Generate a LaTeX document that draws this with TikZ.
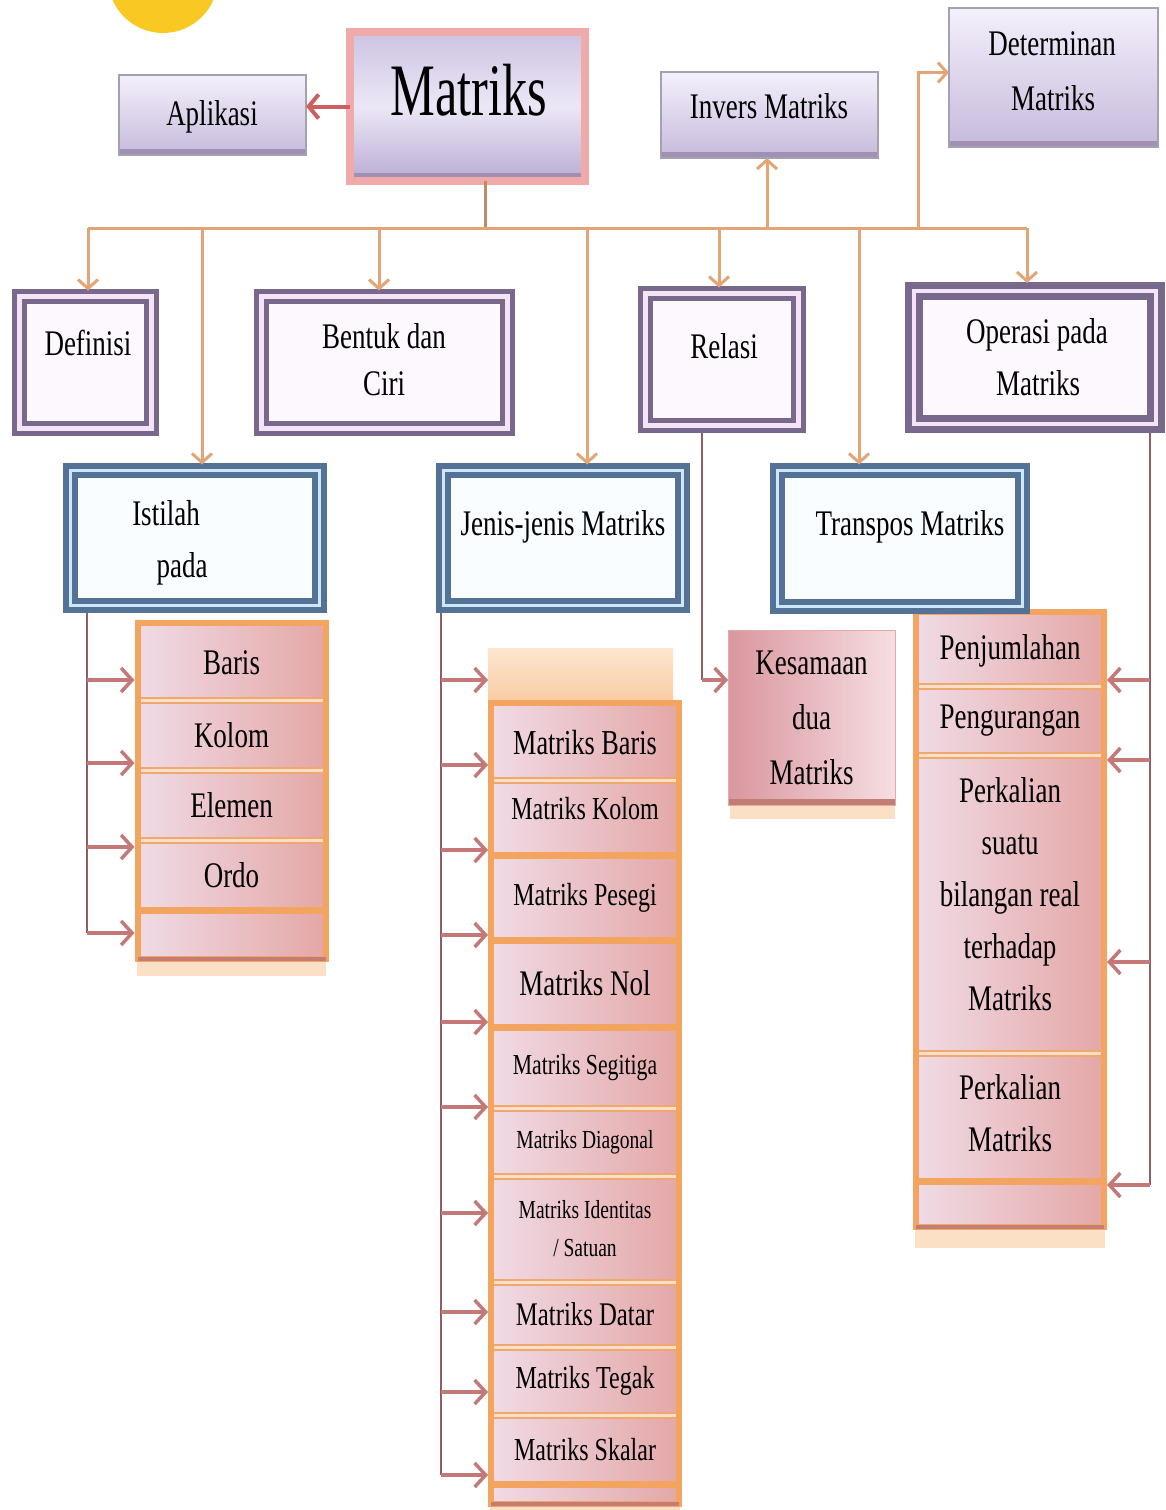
\documentclass[tikz,border=0pt]{standalone}
\usepackage{fontspec}
\setmainfont{Liberation Serif}[FakeStretch=0.75]
\newfontfamily\narrowf{Liberation Serif}[FakeStretch=0.68]
\usetikzlibrary{arrows.meta}
\newcommand\myfs[2]{\fontsize{#1}{#2}\selectfont}
\definecolor{gold}{RGB}{250,200,35}
\definecolor{lavT}{RGB}{244,240,251}
\definecolor{lavB}{RGB}{198,186,220}
\definecolor{lavD}{RGB}{160,145,178}
\definecolor{lavE}{RGB}{165,160,178}
\definecolor{matB}{RGB}{240,170,170}
\definecolor{matT}{RGB}{205,195,226}
\definecolor{matM}{RGB}{236,231,246}
\definecolor{matL}{RGB}{186,172,212}
\definecolor{purp}{RGB}{120,104,140}
\definecolor{purpgap}{RGB}{244,228,246}
\definecolor{purpfill}{RGB}{253,248,253}
\definecolor{bluef}{RGB}{84,114,150}
\definecolor{bluegap}{RGB}{205,230,250}
\definecolor{bluefill}{RGB}{250,253,255}
\definecolor{orb}{RGB}{243,165,95}
\definecolor{pinkL}{RGB}{240,218,228}
\definecolor{pinkR}{RGB}{228,168,168}
\definecolor{sepc}{RGB}{238,170,110}
\definecolor{sepgap}{RGB}{250,222,202}
\definecolor{shadowc}{RGB}{252,224,198}
\definecolor{darkb}{RGB}{195,125,118}
\definecolor{paleT}{RGB}{252,230,208}
\definecolor{paleB}{RGB}{249,205,165}
\definecolor{kesL}{RGB}{218,150,158}
\definecolor{kesR}{RGB}{245,222,226}
\definecolor{kesE}{RGB}{230,170,170}
\definecolor{busc}{RGB}{228,165,118}
\definecolor{busd}{RGB}{190,140,100}
\definecolor{trunkc}{RGB}{140,95,100}
\definecolor{arrc}{RGB}{196,120,120}
\definecolor{redc}{RGB}{205,95,95}
\begin{document}
\begin{tikzpicture}[x=1pt,y=-1pt,
  every node/.style={inner sep=0pt, outer sep=0pt},
  txt/.style={anchor=base, font=\myfs{36}{40}},
  topbox/.style={draw=lavE, line width=1.5pt, top color=lavT, bottom color=lavB,
    path picture={\fill[lavD] ([yshift=6pt]path picture bounding box.south west) rectangle (path picture bounding box.south east);}},
  matbox/.style={draw=matB, line width=8pt, top color=matT, bottom color=matL, middle color=matM,
    path picture={\fill[lavD] ([yshift=8pt]path picture bounding box.south west) rectangle (path picture bounding box.south east);}},
  purbox/.style={draw=purp, line width=5pt, double=purpgap, double distance=5pt, fill=purpfill},
  blubox/.style={draw=bluef, line width=6pt, double=bluegap, double distance=3pt, fill=bluefill},
  frame/.style={draw=orb, line width=6pt, minimum width=188},
  band/.style={left color=pinkL, right color=pinkR, minimum width=182, align=center, font=\myfs{36}{40}},
  sepd/.style={draw=sepc, line width=2pt, double=sepgap, double distance=3pt},
  sept/.style={draw=orb, line width=7pt},
  kesbox/.style={draw=kesE, line width=1pt, left color=kesL, right color=kesR, align=center, font=\myfs{36}{55},
    path picture={\fill[darkb] ([yshift=6pt]path picture bounding box.south west) rectangle (path picture bounding box.south east);}},
  busl/.style={draw=busc, line width=3pt},
  busarr/.style={draw=busc, line width=3pt, -{Straight Barb[length=9pt,width=20pt]}},
  trunk/.style={draw=trunkc, line width=2.5pt},
  larr/.style={draw=arrc, line width=3.5pt, -{Straight Barb[length=11pt,width=24pt]}},
  redarr/.style={draw=redc, line width=4pt, -{Straight Barb[length=10pt,width=24pt]}}
]
\useasboundingbox (0,0) rectangle (1166,1510);
\fill[white] (0,0) rectangle (1166,1510);
\fill[gold] (163,-22) circle[radius=55pt];

% ---------- top row ----------
\node[topbox, minimum width=187, minimum height=80] (apl) at (212.5,115) {};
\node[txt] (aplt) at (212,125) {Aplikasi};
\node[matbox, minimum width=235, minimum height=149] (mat) at (467.5,106.5) {};
\node[anchor=base, font=\narrowf\myfs{74}{80}] (matt) at (469,115) {Matriks};
\node[topbox, minimum width=217, minimum height=86] (inv) at (769.5,115) {};
\node[txt] (invt) at (769,118) {Invers Matriks};
\node[topbox, minimum width=209, minimum height=139] (det) at (1053.5,77.5) {};
\node[txt] (dett1) at (1052,55) {Determinan};
\node[txt] (dett2) at (1053,110) {Matriks};

% ---------- second row ----------
\node[purbox, minimum width=132, minimum height=132] (def) at (85.5,362.5) {};
\node[txt] (deft) at (88,355) {Definisi};
\node[purbox, minimum width=246, minimum height=132] (ben) at (384.5,362.5) {};
\node[txt] (bent1) at (384,348) {Bentuk dan};
\node[txt] (bent2) at (384,395) {Ciri};
\node[purbox, minimum width=153, minimum height=132] (rel) at (722,359.5) {};
\node[txt] (relt) at (724,358) {Relasi};
\node[purbox, line width=7pt, double distance=4pt, minimum width=242, minimum height=133] (ope) at (1035,357.5) {};
\node[txt] (opet1) at (1037,343) {Operasi pada};
\node[txt] (opet2) at (1038,395) {Matriks};

% ---------- lists (behind third row) ----------
% Istilah list
\fill[shadowc] (137,958) rectangle (326,976);
\node[band, minimum height=74] (ib1) at (231.5,663) {Baris};
\node[band, minimum height=70] (ib2) at (231.5,735) {Kolom};
\node[band, minimum height=70] (ib3) at (231.5,805) {Elemen};
\node[band, minimum height=70] (ib4) at (231.5,875) {Ordo};
\node[band, minimum height=46] (ib5) at (231.5,933) {};
\draw[sepd] (ib1.south west) -- (ib1.south east);
\draw[sepd] (ib2.south west) -- (ib2.south east);
\draw[sepd] (ib3.south west) -- (ib3.south east);
\draw[sept] (ib4.south west) -- (ib4.south east);
\node[frame, minimum height=336] (ifr) at (231.5,791) {};
\draw[darkb, line width=4pt] (ifr.south west) -- (ifr.south east);

% Jenis list
\fill[shadowc] (490,1500) rectangle (680,1510);
\node[top color=paleT, bottom color=paleB, minimum width=185, minimum height=52] (jpale) at (580.5,674) {};
\node[band, minimum height=74, font=\myfs{35}{40}] (jb1) at (585,743) {Matriks Baris};
\node[band, minimum height=75, font=\myfs{32}{40}, text depth=18pt] (jb2) at (585,817.5) {Matriks Kolom};
\node[band, minimum height=85, font=\myfs{32}{40}] (jb3) at (585,897.5) {Matriks Pesegi};
\node[band, minimum height=87, font=\myfs{36}{40}] (jb4) at (585,983.5) {Matriks Nol};
\node[band, minimum height=81, font=\myfs{29}{40}] (jb5) at (585,1067.5) {Matriks Segitiga};
\node[band, minimum height=68, font=\myfs{26}{40}] (jb6) at (585,1142) {Matriks Diagonal};
\node[band, minimum height=106, font=\myfs{26}{38}] (jb7) at (585,1229) {Matriks Identitas\\/ Satuan};
\node[band, minimum height=65, font=\myfs{33}{40}] (jb8) at (585,1314.5) {Matriks Datar};
\node[band, minimum height=68, font=\myfs{32}{40}] (jb9) at (585,1381) {Matriks Tegak};
\node[band, minimum height=69, font=\myfs{32}{40}] (jb10) at (585,1449.5) {Matriks Skalar};
\node[band, minimum height=17] (jb11) at (585,1492.5) {};
\draw[sepd] (jb1.south west) -- (jb1.south east);
\draw[sept] (jb2.south west) -- (jb2.south east);
\draw[sept] (jb3.south west) -- (jb3.south east);
\draw[sept] (jb4.south west) -- (jb4.south east);
\draw[sepd] (jb5.south west) -- (jb5.south east);
\draw[sepd] (jb6.south west) -- (jb6.south east);
\draw[sepd] (jb7.south west) -- (jb7.south east);
\draw[sepd] (jb8.south west) -- (jb8.south east);
\draw[sepd] (jb9.south west) -- (jb9.south east);
\draw[sept] (jb10.south west) -- (jb10.south east);
\node[frame, minimum height=801] (jfr) at (585,1103.5) {};
\draw[darkb, line width=4pt] (jfr.south west) -- (jfr.south east);

% Operasi list
\fill[shadowc] (915,1226) rectangle (1105,1248);
\node[band] (ob1) [minimum height=71] at (1010,650.5) {Penjumlahan};
\node[band] (ob2) [minimum height=69] at (1010,720.5) {Pengurangan};
\node[band, font=\myfs{36}{52}, text depth=20pt] (ob3) [minimum height=298] at (1010,904) {Perkalian\\suatu\\bilangan real\\terhadap\\Matriks};
\node[band, font=\myfs{36}{52}, text depth=8pt] (ob4) [minimum height=128] at (1010,1117) {Perkalian\\Matriks};
\node[band] (ob5) [minimum height=43] at (1010,1202.5) {};
\draw[sepd] (ob1.south west) -- (ob1.south east);
\draw[sepd] (ob2.south west) -- (ob2.south east);
\draw[sepd] (ob3.south west) -- (ob3.south east);
\draw[sept] (ob4.south west) -- (ob4.south east);
\node[frame, minimum height=615] (ofr) at (1010,919.5) {};
\draw[darkb, line width=4pt] (ofr.south west) -- (ofr.south east);

% Kesamaan
\fill[shadowc] (730,803) rectangle (895,819);
\node[kesbox, minimum width=167, minimum height=175] (kes) at (811.5,717.5) {Kesamaan\\dua\\Matriks};

% ---------- third row ----------
\node[blubox, minimum width=249, minimum height=135] (ist) at (195,538) {};
\node[txt] (istt1) at (166,525) {Istilah};
\node[txt] (istt2) at (182,577) {pada};
\node[blubox, minimum width=239, minimum height=135] (jen) at (563,538) {};
\node[txt] (jent) at (563,535) {Jenis-jenis Matriks};
\node[blubox, minimum width=245, minimum height=136] (tra) at (900,538.5) {};
\node[txt] (trat) at (910,535) {Transpos Matriks};

% ---------- bus connectors ----------
\coordinate (bj) at (485,228);
\coordinate (bL) at (88,228);
\coordinate (bR) at (1027,228);
\coordinate (b2) at (202,228);
\coordinate (b3) at (379,228);
\coordinate (b4) at (587,228);
\coordinate (b5) at (719,228);
\coordinate (b6) at (767,228);
\coordinate (b7) at (859,228);
\coordinate (b8) at (918,228);
\draw[draw=busd, line width=3pt] ([xshift=17.5pt]mat.south) -- (bj);
\draw[busl] (bL) -- (bR);
\draw[busarr, shorten >=6pt] (bL) -- (def.north -| bL);
\draw[busarr, shorten >=6pt] (b2) -- (ist.north -| b2);
\draw[busarr, shorten >=6pt] (b3) -- (ben.north -| b3);
\draw[busarr, shorten >=6pt] (b4) -- (jen.north -| b4);
\draw[busarr, shorten >=6pt] (b5) -- (rel.north -| b5);
\draw[busarr] (b6) -- (inv.south -| b6);
\draw[busarr, shorten >=6pt] (b7) -- (tra.north -| b7);
\draw[busarr] (b8) |- ([yshift=5pt]det.west);
\draw[busarr, shorten >=8pt] (bR) -- (ope.north -| bR);
\draw[redarr] (mat.west) -- (apl.east |- mat.west);

% ---------- Istilah trunk ----------
\path ([xshift=16.5pt]ist.south west) coordinate (it);
\path ([yshift=-17pt]ib1.west) coordinate (ia1);
\path ([yshift=-28pt]ib2.west) coordinate (ia2);
\path ([yshift=28pt]ib4.west) coordinate (ia3);
\path (ib5.west) coordinate (ia4);
\draw[trunk, shorten <=7pt] (it) -- (it |- ia4);
\foreach \a in {ia1,ia2,ia3,ia4}{\draw[larr, shorten >=6pt] (it |- \a) -- (\a);}

% ---------- Jenis trunk ----------
\path ([xshift=-2.5pt]jen.south west) coordinate (jt);
\path ([yshift=-6pt]jpale.west) coordinate (ja0);
\path ([yshift=-22pt]jb1.west) coordinate (ja1);
\path ([yshift=-32.5pt]jb2.west) coordinate (ja2);
\path ([yshift=-37.5pt]jb3.west) coordinate (ja3);
\path ([yshift=-38.5pt]jb4.west) coordinate (ja4);
\path ([yshift=-39.5pt]jb5.west) coordinate (ja5);
\path ([yshift=16pt]jb7.west) coordinate (ja6);
\path ([yshift=2.5pt]jb8.west) coordinate (ja7);
\path ([yshift=-11pt]jb9.west) coordinate (ja8);
\path ([yshift=-25.5pt]jb10.west) coordinate (ja9);
\draw[trunk, shorten <=7pt] (jt) -- (jt |- ja9);
\draw[larr] (jt |- ja0) -- (ja0);
\foreach \a in {ja1,ja2,ja3,ja4,ja5,ja6,ja7,ja8,ja9}{\draw[larr, shorten >=6pt] (jt |- \a) -- (\a);}

% ---------- Operasi trunk ----------
\path ([xshift=-6pt]ope.south east) coordinate (ot);
\path ([yshift=-29.5pt]ob1.east) coordinate (oa1);
\path ([yshift=-39.5pt]ob2.east) coordinate (oa2);
\path ([yshift=-58pt]ob3.east) coordinate (oa3);
\path ([yshift=17.5pt]ob5.east) coordinate (oa4);
\draw[trunk, shorten <=9pt] (ot) -- (ot |- oa4);
\foreach \a in {oa1,oa2,oa3,oa4}{\draw[larr, shorten >=6pt] (ot |- \a) -- (\a);}

% ---------- Relasi trunk ----------
\path ([xshift=56.5pt]rel.south west) coordinate (rt);
\path ([yshift=37.5pt]kes.west) coordinate (ka);
\draw[trunk, shorten <=7pt] (rt) -- (rt |- ka);
\draw[larr] (rt |- ka) -- (ka);
\end{tikzpicture}
\end{document}
